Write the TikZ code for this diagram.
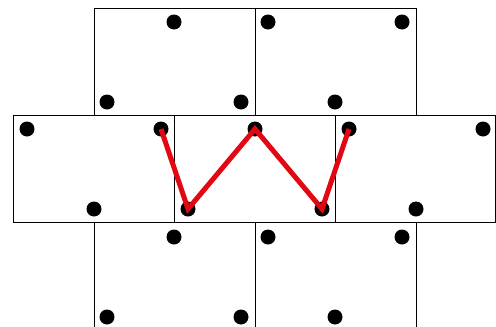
\documentclass[tikz,border=0pt]{standalone}
\definecolor{wred}{RGB}{227,6,19}
\begin{document}
\begin{tikzpicture}[x=1pt,y=-1pt,
  cellbox/.style={draw=black,line width=0.9pt},
  dot/.style={circle,fill=black,inner sep=0pt,minimum size=15pt},
  redline/.style={draw=wred,line width=5pt}]
\useasboundingbox (0,0) rectangle (496,327);
\clip (0,0) rectangle (496,327);
% row 1
\draw[cellbox] (94,8) rectangle (255,115);
\draw[cellbox] (255,8) rectangle (416,115);
% row 2
\draw[cellbox] (13,115) rectangle (174,222);
\draw[cellbox] (174,115) rectangle (335,222);
\draw[cellbox] (335,115) rectangle (495.5,222);
% row 3
\draw[cellbox] (94,222) rectangle (255,329);
\draw[cellbox] (255,222) rectangle (416,329);
% dots row 1
\node[dot] (a1) at (174,22) {};
\node[dot] (a2) at (107,102) {};
\node[dot] (a3) at (241,102) {};
\node[dot] (b1) at (268,22) {};
\node[dot] (b2) at (402,22) {};
\node[dot] (b3) at (335,102) {};
% dots row 2
\node[dot] (c1) at (27,129) {};
\node[dot] (c2) at (161,129) {};
\node[dot] (c3) at (94,209) {};
\node[dot] (d1) at (255,129) {};
\node[dot] (d2) at (188,209) {};
\node[dot] (d3) at (322,209) {};
\node[dot] (e1) at (349,129) {};
\node[dot] (e2) at (483,129) {};
\node[dot] (e3) at (416,209) {};
% dots row 3
\node[dot] (f1) at (174,237) {};
\node[dot] (f2) at (107,317) {};
\node[dot] (f3) at (241,317) {};
\node[dot] (g1) at (268,237) {};
\node[dot] (g2) at (402,237) {};
\node[dot] (g3) at (335,317) {};
% red zigzag
\draw[redline] (c2.center) -- (d2.center) -- (d1.center) -- (d3.center) -- (e1.center);
\end{tikzpicture}
\end{document}
